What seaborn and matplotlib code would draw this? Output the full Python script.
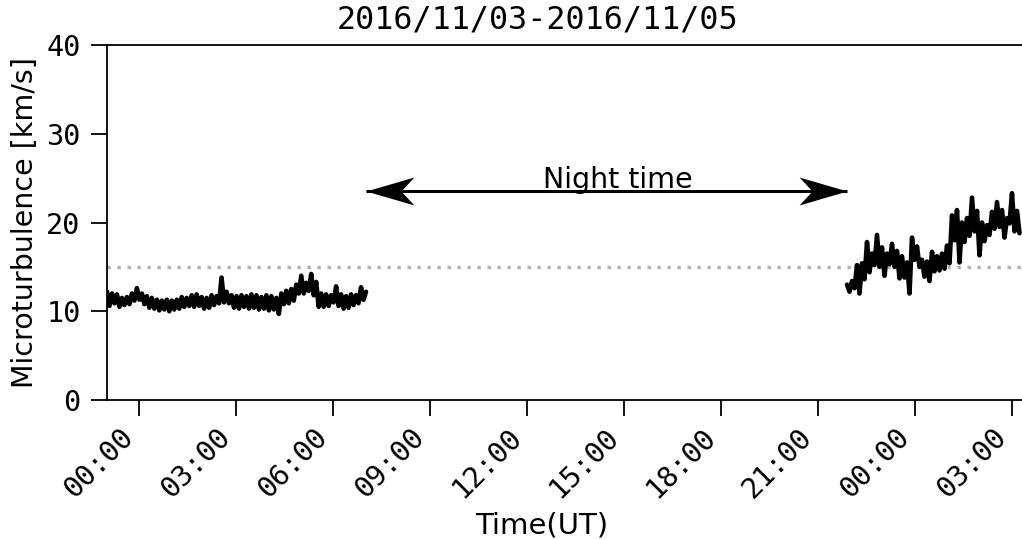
import numpy as np
import pandas as pd
import matplotlib
matplotlib.use("Agg")
import matplotlib.pyplot as plt
import matplotlib.dates as mdates
from matplotlib.path import Path
import seaborn as sns

# ---------------- data ----------------
title_text = "2016/11/03-2016/11/05"
ylabel_text = "Microturbulence [km/s]"
xlabel_text = "Time(UT)"
night_text = "Night time"

seg1_start = "2016-11-03 23:00:36"
seg1_end = "2016-11-04 07:01:14"
seg1_values = [
    12.2, 10.6, 12.0, 10.9, 11.9, 10.5, 11.5, 10.7, 11.6, 10.8,
    12.0, 11.2, 12.6, 11.3, 12.0, 10.8, 11.7, 10.4, 11.5, 10.3,
    11.3, 10.1, 11.2, 10.2, 11.3, 10.0, 11.2, 10.2, 11.3, 10.3,
    11.6, 10.5, 11.5, 10.6, 11.8, 10.5, 11.9, 10.6, 11.6, 10.3,
    11.5, 10.4, 11.8, 10.7, 11.7, 10.9, 13.8, 11.0, 12.2, 10.9,
    11.8, 10.4, 11.7, 10.3, 11.8, 10.5, 11.7, 10.3, 11.9, 10.4,
    11.8, 10.2, 11.6, 10.3, 11.8, 10.1, 11.7, 10.2, 11.5, 9.7,
    12.0, 10.8, 12.3, 10.9, 12.5, 11.2, 13.0, 12.0, 14.0, 12.0,
    13.2, 12.3, 14.2, 11.8, 13.3, 10.5, 12.0, 10.5, 11.9, 10.6,
    11.8, 11.0, 12.8, 10.6, 11.9, 10.3, 11.7, 10.4, 11.9, 10.7,
    11.8, 10.9, 12.7, 11.3, 12.2,
]

seg2_start = "2016-11-04 21:53:49"
seg2_end = "2016-11-05 03:13:55"
seg2_values = [
    13.0, 12.2, 13.4, 12.6, 15.2, 12.0, 15.4, 13.6, 17.8, 14.4,
    16.5, 15.2, 18.6, 15.0, 17.2, 14.0, 16.5, 15.3, 17.6, 15.0,
    16.8, 13.7, 16.2, 13.8, 15.5, 12.0, 18.3, 15.8, 17.3, 15.0,
    15.8, 13.9, 15.6, 13.4, 16.7, 14.5, 16.2, 14.6, 16.5, 14.8,
    17.4, 15.4, 20.8, 18.0, 21.4, 15.5, 20.0, 17.8, 20.5, 18.5,
    22.8, 19.0, 21.3, 16.3, 20.0, 17.9, 19.7, 18.6, 21.2, 19.3,
    22.3, 19.5, 21.4, 18.3, 20.5, 19.9, 23.3, 19.0, 21.3, 18.8,
]

threshold = 15
y_ticks = [0, 10, 20, 30, 40]
y_limits = (0, 40)
x_right_limit = "2016-11-05 03:18:33"
arrow_level = 23.55
night_label_level = 23.9
night_label_time = "2016-11-04 14:49:00"

t1 = pd.date_range(seg1_start, seg1_end, periods=len(seg1_values))
t2 = pd.date_range(seg2_start, seg2_end, periods=len(seg2_values))
df1 = pd.DataFrame({"time": t1, "value": seg1_values})
df2 = pd.DataFrame({"time": t2, "value": seg2_values})

# ---------------- style ----------------
sns.set_style("ticks")
plt.rcParams["font.family"] = ["DejaVu Sans"]
plt.rcParams["axes.linewidth"] = 1.3
for key in ["text.color", "axes.labelcolor", "xtick.color", "ytick.color",
            "axes.edgecolor"]:
    plt.rcParams[key] = "black"

mono = ["DejaVu Sans Mono", "DejaVu Sans"]

fig = plt.figure(figsize=(10.22, 5.39), dpi=100)
ax = fig.add_axes([107 / 1022, 139 / 539, 915 / 1022, 355 / 539])

sns.lineplot(data=df1, x="time", y="value", color="black", linewidth=3.3,
             estimator=None, sort=False, ax=ax)
sns.lineplot(data=df2, x="time", y="value", color="black", linewidth=3.3,
             estimator=None, sort=False, ax=ax)

ax.axhline(threshold, color="#b0b0b0", linestyle=(0, (1, 2)), linewidth=2.4,
           zorder=1)

# double-headed arrow spanning the night-time gap
a_left = t1[-1]
a_right = t2[0]
ax.plot([a_left, a_right], [arrow_level, arrow_level], color="black",
        linewidth=2.2, solid_capstyle="butt")
head_l = Path([(0, 0), (48, 14), (35, 0), (48, -14), (0, 0)],
              [Path.MOVETO, Path.LINETO, Path.LINETO, Path.LINETO, Path.CLOSEPOLY])
head_r = Path([(0, 0), (-48, 14), (-35, 0), (-48, -14), (0, 0)],
              [Path.MOVETO, Path.LINETO, Path.LINETO, Path.LINETO, Path.CLOSEPOLY])
ax.plot([a_left], [arrow_level], marker=head_l, markersize=69, color="black",
        markeredgewidth=0, linestyle="none")
ax.plot([a_right], [arrow_level], marker=head_r, markersize=69, color="black",
        markeredgewidth=0, linestyle="none")
ax.text(pd.Timestamp(night_label_time), night_label_level, night_text,
        ha="center", va="baseline", fontsize=20.5, color="black")

ax.set_ylim(*y_limits)
ax.set_yticks(y_ticks)
ax.set_xlim(t1[0], pd.Timestamp(x_right_limit))
ax.xaxis.set_major_locator(mdates.HourLocator(byhour=range(0, 24, 3)))
ax.xaxis.set_major_formatter(mdates.DateFormatter("%H:%M"))

ax.tick_params(axis="both", direction="out", length=11.5, width=1.3,
               labelsize=20.5, color="black", labelcolor="black")
ax.tick_params(axis="y", pad=7.5)
ax.tick_params(axis="x", pad=5)

sns.despine(ax=ax, top=False, right=True)
for side in ["left", "bottom", "top"]:
    ax.spines[side].set_color("black")
    ax.spines[side].set_linewidth(1.3)

ax.set_ylabel(ylabel_text, fontsize=20.5, labelpad=5, color="black")
ax.set_xlabel(xlabel_text, fontsize=21, color="black")
ax.xaxis.set_label_coords(0.475, -0.315)
ax.set_title(title_text, fontsize=22.9, family=mono, x=0.47, pad=12,
             color="black")

fig.canvas.draw()
for lbl in ax.get_xticklabels():
    lbl.set_rotation(45)
    lbl.set_ha("right")
    lbl.set_fontfamily(mono)
for lbl in ax.get_yticklabels():
    lbl.set_fontfamily(mono)

fig.savefig("out.png", dpi=100)
